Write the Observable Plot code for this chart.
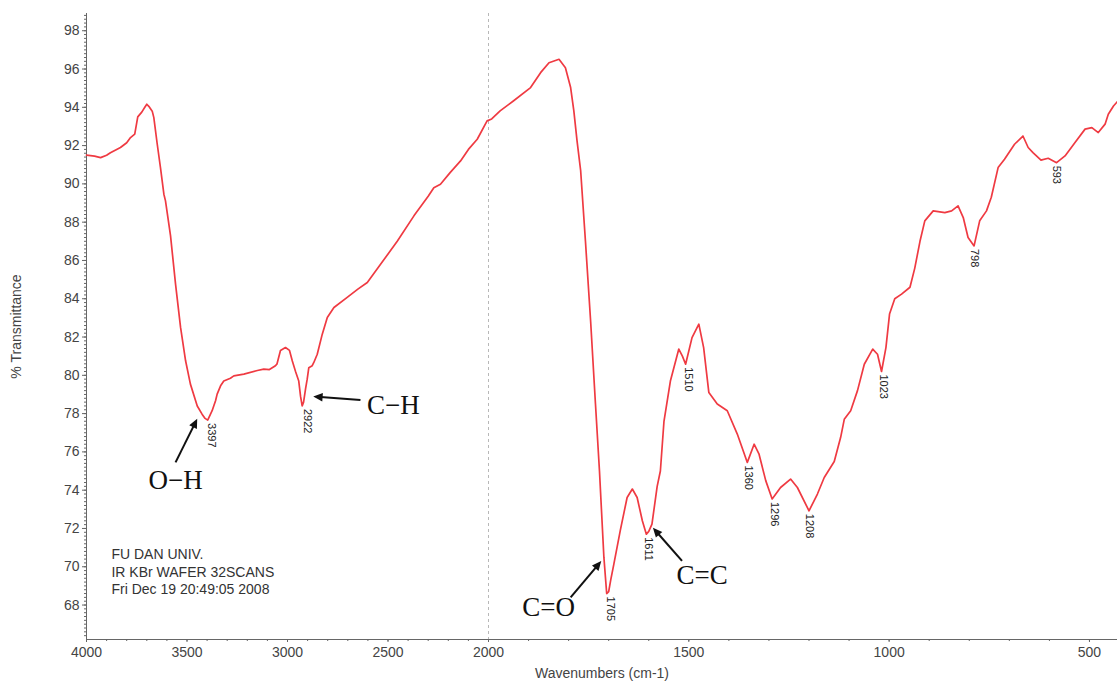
<!DOCTYPE html>
<html><head><meta charset="utf-8">
<script src="https://cdn.jsdelivr.net/npm/d3@7"></script>
<script src="https://cdn.jsdelivr.net/npm/@observablehq/plot@0.6"></script>
<style>body{margin:0;background:#fff;} #chart svg{display:block}</style>
</head><body><div id="chart"></div>
<script>
// IR spectrum (wavenumber cm-1, % transmittance)
const wavenumber = [4000,3960,3930,3900,3881,3850,3831,3800,3781,3760,3745,3725,3710,3700,3690,3673,3665,3648,3632,3615,3607,3582,3557,3532,3507,3483,3449,3425,3410,3397,3375,3358,3350,3333,3317,3284,3267,3217,3150,3118,3090,3060,3052,3035,3010,2990,2976,2960,2944,2935,2927,2920,2910,2902,2894,2877,2869,2852,2827,2802,2769,2703,2650,2603,2537,2454,2371,2300,2272,2239,2190,2139,2100,2056,2007,1992,1971,1938,1895,1870,1849,1824,1808,1795,1787,1779,1770,1758,1745,1733,1723,1712,1705,1700,1695,1687,1671,1654,1641,1629,1616,1606,1600,1592,1579,1571,1562,1546,1525,1516,1508,1492,1475,1463,1450,1429,1404,1379,1354,1337,1325,1308,1292,1271,1246,1229,1200,1179,1162,1137,1121,1112,1096,1079,1062,1041,1029,1019,1008,999,986,969,948,936,923,911,890,861,844,828,815,803,788,774,757,745,728,712,687,666,653,641,621,603,582,561,536,511,494,478,461,453,440,430];
const transmittance = [91.5,91.45,91.37,91.5,91.63,91.8,91.9,92.15,92.42,92.6,93.5,93.75,94.0,94.16,94.05,93.8,93.46,92.07,90.85,89.46,89.11,87.3,84.76,82.5,80.76,79.54,78.4,77.97,77.75,77.66,78.15,78.67,79.02,79.45,79.7,79.85,79.97,80.06,80.25,80.32,80.3,80.5,80.6,81.3,81.45,81.3,80.75,80.2,79.7,78.9,78.4,78.6,79.3,79.8,80.4,80.5,80.67,81.1,82.15,83.02,83.54,84.07,84.5,84.85,85.8,87.0,88.33,89.35,89.8,89.98,90.6,91.2,91.8,92.33,93.29,93.39,93.81,94.33,95.03,95.81,96.33,96.51,96.07,95.03,93.81,92.25,90.7,87.0,82.8,78.5,75.0,70.5,68.6,68.7,69.3,70.15,71.9,73.62,74.06,73.62,72.4,71.7,71.85,72.23,74.2,75.0,77.6,79.7,81.37,81.0,80.58,81.97,82.67,81.45,79.1,78.5,78.15,76.93,75.45,76.4,75.9,74.5,73.54,74.14,74.58,74.14,72.92,73.8,74.66,75.5,76.76,77.7,78.15,79.2,80.58,81.37,81.1,80.2,81.45,83.2,84.0,84.24,84.6,85.6,87.0,88.07,88.59,88.5,88.59,88.85,88.24,87.2,86.76,88.07,88.59,89.3,90.85,91.29,92.07,92.5,91.9,91.63,91.24,91.34,91.11,91.46,92.16,92.86,92.94,92.68,93.12,93.64,94.07,94.3];

// peak labels
const peakWave = [3397,2922,1705,1611,1510,1360,1296,1208,1023,798,593];
const peakT    = [77.66,78.4,68.6,71.7,80.58,75.45,73.54,72.92,80.2,86.76,91.11];

// bond annotations
const bondLabel = ["O\u2212H","C\u2212H","C=O","C=C"];
const bondX = [3557,2473,1850,1467];
const bondY = [74.49,78.41,67.87,69.53];
const arrowX1 = [3557,2637,1795,1517];
const arrowY1 = [75.45,78.71,68.40,70.31];
const arrowX2 = [3458,2852,1725,1583];
const arrowY2 = [77.54,78.88,70.14,71.88];

// instrument note
const noteLines = ["FU DAN UNIV.","IR KBr WAFER 32SCANS","Fri Dec 19 20:49:05 2008"];
const noteX = [3876];
const noteY = [71.04];

// axes
const xTicks = [4000,3500,3000,2500,2000,1500,1000,500];
const yTicks = [68,70,72,74,76,78,80,82,84,86,88,90,92,94,96,98];
const xMinor = d3.range(4000, 430, -100);
const yMinor = d3.range(66.4, 98.9, 0.2);

const spectrum = wavenumber.map((w, i) => ({w, t: transmittance[i]}));
const peaks = peakWave.map((w, i) => ({w, t: peakT[i], label: String(w)}));
const bonds = bondLabel.map((label, i) => ({label, x: bondX[i], y: bondY[i], x1: arrowX1[i], y1: arrowY1[i], x2: arrowX2[i], y2: arrowY2[i]}));
const note = [{x: noteX[0], y: noteY[0], text: noteLines.join("\n")}];

const axisColor = "#666";
const chart = Plot.plot({
  width: 1117, height: 683,
  marginLeft: 86, marginRight: 0, marginTop: 13, marginBottom: 44,
  style: {fontFamily: "'Liberation Sans', Arial, sans-serif", fontSize: "14px", color: "#333", background: "#fff"},
  x: {type: "linear", domain: [4000, 2000, 430], range: [86, 488, 1117]},
  y: {type: "linear", domain: [66.2, 98.9]},
  marks: [
    Plot.ruleX([2000], {stroke: "#b8b8b8", strokeDasharray: "3,3", strokeWidth: 1}),
    Plot.ruleY([66.2], {stroke: axisColor}),
    Plot.ruleX([4000], {stroke: axisColor}),
    Plot.axisX({ticks: xMinor, tickSize: 2, text: null, tickFormat: () => "", label: null, stroke: axisColor}),
    Plot.axisX({ticks: xTicks, tickSize: 3, tickPadding: 5, tickFormat: d => String(d), stroke: axisColor, fill: "#444",
      label: "Wavenumbers (cm-1)", labelAnchor: "center", labelOffset: 38, labelArrow: "none"}),
    Plot.axisY({ticks: yMinor, tickSize: 2, text: null, tickFormat: () => "", label: null, stroke: axisColor}),
    Plot.axisY({ticks: yTicks, tickSize: 4, tickPadding: 3, tickFormat: d => String(d), stroke: axisColor, fill: "#444",
      label: "% Transmittance", labelAnchor: "center", labelOffset: 75, labelArrow: "none"}),
    Plot.line(spectrum, {x: "w", y: "t", stroke: "#ef3a42", strokeWidth: 1.7, curve: "linear"}),
    Plot.text(peaks, {x: "w", y: "t", text: "label", rotate: 90, textAnchor: "start", lineAnchor: "middle", dx: 4, dy: 3, fontSize: 11, fill: "#222"}),
    Plot.link(bonds, {x1: "x1", y1: "y1", x2: "x2", y2: "y2", stroke: "#111", strokeWidth: 2, markerEnd: "arrow"}),
    Plot.text(bonds, {x: "x", y: "y", text: "label", fontFamily: "'Liberation Serif', 'Times New Roman', serif", fontSize: 27, fill: "#111", lineAnchor: "middle"}),
    Plot.text(note, {x: "x", y: "y", text: "text", textAnchor: "start", lineAnchor: "top", fontSize: 14, lineHeight: 1.25, fill: "#333"})
  ]
});
chart.querySelectorAll("marker").forEach(m => {
  m.setAttribute("fill", "#111");
  m.setAttribute("stroke", "none");
  const p = m.querySelector("path");
  if (p) p.setAttribute("d", "M-4,-3.2L3,0L-4,3.2Z");
});
document.getElementById("chart").appendChild(chart);
</script>
</body></html>
